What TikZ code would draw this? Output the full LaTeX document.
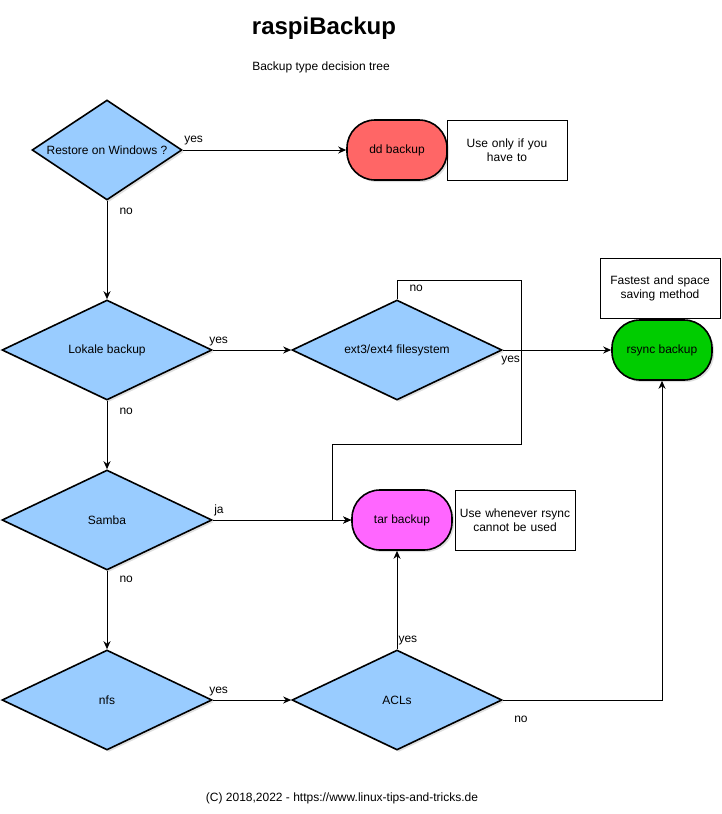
\documentclass[tikz,border=0pt]{standalone}
\usepackage{fontspec}
\setmainfont{Liberation Sans}
\usetikzlibrary{arrows.meta,shapes.geometric,shadows}
\definecolor{hellblau}{HTML}{99CCFF}
\definecolor{ddrot}{HTML}{FF6666}
\definecolor{tarpink}{HTML}{FF66FF}
\definecolor{rsyncgruen}{HTML}{00CC00}
\tikzset{
    schatten/.style={
           drop shadow={opacity=0.25, shadow xshift=2pt, shadow yshift=-2pt}},
    entscheidung/.style={
           diamond,
           aspect=2.1,
           draw=black, line width=1.6pt,
           fill=hellblau,
           inner sep=0pt,
           minimum width=210pt,
           minimum height=100pt,
           font=\fontsize{12}{14}\selectfont,
           schatten},
    ergebnis/.style={
           rectangle,
           rounded corners=28pt,
           draw=black, line width=1.6pt,
           minimum width=100pt,
           minimum height=60pt,
           font=\fontsize{12}{14}\selectfont,
           schatten},
    notiz/.style={
           rectangle,
           draw=black, line width=0.8pt,
           minimum width=120pt,
           minimum height=60pt,
           text width=112pt,
           align=center,
           font=\fontsize{12}{14}\selectfont},
    beschr/.style={inner sep=0pt, font=\fontsize{12}{14}\selectfont},
    pfeil/.style={-{Stealth[length=8pt,width=7pt,inset=2.5pt]}, black, line width=1pt}
    }
\begin{document}
\begin{tikzpicture}[x=1pt,y=-1pt]
      \useasboundingbox (0,0) rectangle (722,814);
      \node[font=\fontsize{24}{28}\selectfont\bfseries] (titel) at (324,28) {raspiBackup};
      \node[font=\fontsize{12}{14}\selectfont] (untertitel) at (321,67) {Backup type decision tree};
      \node[entscheidung, aspect=1.5, minimum width=150pt] (0) at (107,150) {Restore on Windows ?};
      \node[entscheidung] (1) at (107,350) {Lokale backup};
      \node[entscheidung] (2) at (107,520) {Samba};
      \node[entscheidung] (3) at (107,700) {nfs};
      \node[entscheidung] (4) at (397,350) {ext3/ext4 filesystem};
      \node[entscheidung] (5) at (397,700) {ACLs};
      \node[ergebnis, fill=ddrot] (6) at (397,150) {dd backup};
      \node[ergebnis, fill=rsyncgruen] (7) at (662,350) {rsync backup};
      \node[ergebnis, fill=tarpink] (8) at (402,520) {tar backup};
      \node[notiz] (9) at (507,150) {Use only if you\\have to};
      \node[notiz] (10) at (660,288) {Fastest and space\\saving method};
      \node[notiz] (11) at (515,520) {Use whenever rsync\\cannot be used};
      \node[font=\fontsize{12}{14}\selectfont] (fuss) at (342,798) {(C) 2018,2022 - https://www.linux-tips-and-tricks.de};
      \coordinate (schleife1) at (521,280);
      \coordinate (schleife2) at (332,444);
      \coordinate (ecke) at (662,700);
      \draw[pfeil] (0.east) -- node[beschr, at start, anchor=south west, xshift=1pt, yshift=5pt] {yes} (6.west);
      \draw[pfeil] (0.south) -- node[beschr, at start, anchor=north west, xshift=12pt, yshift=-7pt] {no} (1.north);
      \draw[pfeil] (1.east) -- node[beschr, at start, anchor=south west, xshift=-4pt, yshift=4pt] {yes} (4.west);
      \draw[pfeil] (1.south) -- node[beschr, at start, anchor=north west, xshift=12pt, yshift=-7pt] {no} (2.north);
      \draw[pfeil] (2.south) -- node[beschr, at start, anchor=north west, xshift=12pt, yshift=-5pt] {no} (3.north);
      \draw[pfeil] (4.east) -- node[beschr, at start, anchor=north west, xshift=-2pt, yshift=-6pt] {yes} (7.west);
      \draw[pfeil] (2.east) -- node[beschr, at start, anchor=south west, xshift=1pt, yshift=4pt] {ja} (8.west);
      \draw[pfeil] (4.north) |- node[beschr, pos=0.25, anchor=west, xshift=12pt, yshift=1pt] {no} (schleife1) |- (schleife2) |- (8.west);
      \draw[pfeil] (3.east) -- node[beschr, at start, anchor=south west, xshift=-4pt, yshift=4pt] {yes} (5.west);
      \draw[pfeil] (5.north) -- node[beschr, at start, anchor=south west, xshift=1pt, yshift=4pt] {yes} (5.north |- 8.south);
      \draw[pfeil] (5.east) -- node[beschr, at start, anchor=north west, xshift=11pt, yshift=-16pt] {no} (ecke) -- (7.south);
\end{tikzpicture}
\end{document}
